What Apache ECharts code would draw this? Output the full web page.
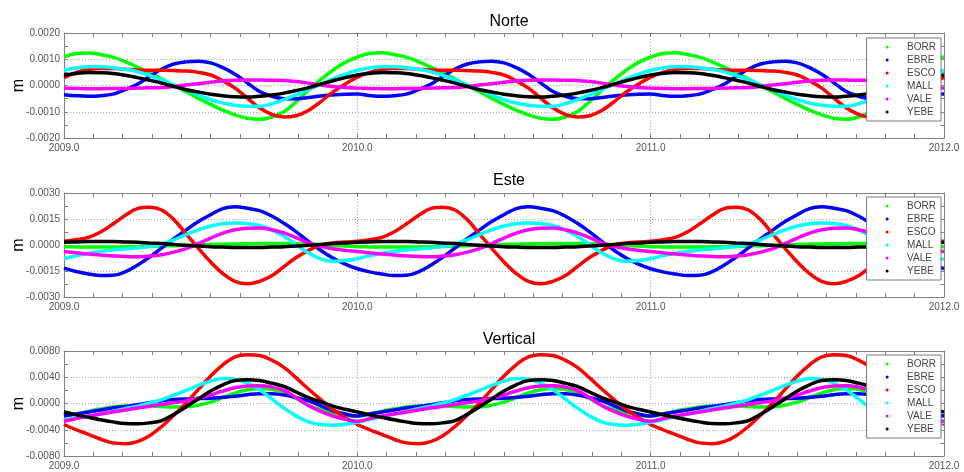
<!DOCTYPE html>
<html>
<head>
<meta charset="utf-8">
<title>Norte / Este / Vertical</title>
<script src="https://cdn.jsdelivr.net/npm/echarts@6/dist/echarts.min.js"></script>
<style>
  html, body { margin: 0; padding: 0; background: #fff; }
  #chart { width: 964px; height: 472px; }
</style>
</head>
<body>
<div id="chart"></div>
<script>
// Sampling epochs: two values per month, 2009.0 to 2012.0
const epochs = Array.from({ length: 73 }, (_, k) => 2009 + k / 24);

const stations = ['BORR', 'EBRE', 'ESCO', 'MALL', 'VALE', 'YEBE'];
const stationColors = ['#00ff00', '#0000ff', '#ff0000', '#00ffff', '#ff00ff', '#000000'];

const panelTitles = ['Norte', 'Este', 'Vertical'];
const xTickLabels = ['2009.0', '2010.0', '2011.0', '2012.0'];
const yTickLabelsNorte = ['-0.0020', '-0.0010', '0.0000', '0.0010', '0.0020'];
const yTickLabelsEste = ['-0.0030', '-0.0015', '0.0000', '0.0015', '0.0030'];
const yTickLabelsVertical = ['-0.0080', '-0.0040', '0.0000', '0.0040', '0.0080'];

// North component (m), one row per year
const norteBORR = [
  0.00109, 0.00122, 0.00124, 0.00118, 0.00108, 0.00091, 0.00070, 0.00048, 0.00025, 0.00000, -0.00024, -0.00049, -0.00072, -0.00094, -0.00112, -0.00125, -0.00129, -0.00120, -0.00100, -0.00062, -0.00018, 0.00022, 0.00058, 0.00088,
  0.00108, 0.00122, 0.00125, 0.00118, 0.00108, 0.00091, 0.00070, 0.00048, 0.00025, 0.00000, -0.00024, -0.00049, -0.00072, -0.00094, -0.00112, -0.00125, -0.00129, -0.00120, -0.00100, -0.00062, -0.00018, 0.00022, 0.00058, 0.00088,
  0.00108, 0.00122, 0.00125, 0.00118, 0.00108, 0.00091, 0.00070, 0.00048, 0.00025, 0.00000, -0.00024, -0.00049, -0.00072, -0.00094, -0.00112, -0.00125, -0.00129, -0.00120, -0.00100, -0.00062, -0.00018, 0.00022, 0.00058, 0.00088,
  0.00110];
const norteEBRE = [
  -0.00035, -0.00039, -0.00041, -0.00039, -0.00033, -0.00016, 0.00005, 0.00034, 0.00063, 0.00082, 0.00090, 0.00092, 0.00086, 0.00068, 0.00043, 0.00010, -0.00023, -0.00041, -0.00050, -0.00050, -0.00046, -0.00040, -0.00036, -0.00033,
  -0.00032, -0.00038, -0.00041, -0.00039, -0.00033, -0.00016, 0.00005, 0.00034, 0.00063, 0.00082, 0.00090, 0.00092, 0.00086, 0.00068, 0.00043, 0.00010, -0.00023, -0.00041, -0.00050, -0.00050, -0.00046, -0.00040, -0.00036, -0.00033,
  -0.00032, -0.00038, -0.00041, -0.00039, -0.00033, -0.00016, 0.00005, 0.00034, 0.00063, 0.00082, 0.00090, 0.00092, 0.00086, 0.00068, 0.00043, 0.00010, -0.00023, -0.00041, -0.00050, -0.00050, -0.00046, -0.00040, -0.00036, -0.00033,
  -0.00032];
const norteESCO = [
  0.00030, 0.00050, 0.00061, 0.00065, 0.00065, 0.00062, 0.00059, 0.00058, 0.00058, 0.00057, 0.00055, 0.00050, 0.00040, 0.00018, -0.00010, -0.00048, -0.00085, -0.00110, -0.00120, -0.00115, -0.00095, -0.00062, -0.00025, 0.00005,
  0.00032, 0.00050, 0.00061, 0.00065, 0.00065, 0.00062, 0.00059, 0.00058, 0.00058, 0.00057, 0.00055, 0.00050, 0.00040, 0.00018, -0.00010, -0.00048, -0.00085, -0.00110, -0.00120, -0.00115, -0.00095, -0.00062, -0.00025, 0.00005,
  0.00032, 0.00050, 0.00061, 0.00065, 0.00065, 0.00062, 0.00059, 0.00058, 0.00058, 0.00057, 0.00055, 0.00050, 0.00040, 0.00018, -0.00010, -0.00048, -0.00085, -0.00110, -0.00120, -0.00115, -0.00095, -0.00062, -0.00025, 0.00005,
  0.00032];
const norteMALL = [
  0.00059, 0.00067, 0.00071, 0.00071, 0.00068, 0.00062, 0.00053, 0.00038, 0.00021, 0.00002, -0.00016, -0.00036, -0.00054, -0.00067, -0.00075, -0.00079, -0.00079, -0.00070, -0.00054, -0.00036, -0.00016, 0.00005, 0.00025, 0.00043,
  0.00058, 0.00067, 0.00071, 0.00071, 0.00068, 0.00062, 0.00053, 0.00038, 0.00021, 0.00002, -0.00016, -0.00036, -0.00054, -0.00067, -0.00075, -0.00079, -0.00079, -0.00070, -0.00054, -0.00036, -0.00016, 0.00005, 0.00025, 0.00043,
  0.00058, 0.00067, 0.00071, 0.00071, 0.00068, 0.00062, 0.00053, 0.00038, 0.00021, 0.00002, -0.00016, -0.00036, -0.00054, -0.00067, -0.00075, -0.00079, -0.00079, -0.00070, -0.00054, -0.00036, -0.00016, 0.00005, 0.00025, 0.00043,
  0.00058];
const norteVALE = [
  -0.00010, -0.00011, -0.00012, -0.00012, -0.00011, -0.00011, -0.00010, -0.00009, -0.00008, -0.00004, 0.00002, 0.00007, 0.00012, 0.00017, 0.00020, 0.00021, 0.00021, 0.00020, 0.00019, 0.00015, 0.00009, 0.00002, -0.00004, -0.00008,
  -0.00010, -0.00011, -0.00012, -0.00012, -0.00011, -0.00011, -0.00010, -0.00009, -0.00008, -0.00004, 0.00002, 0.00007, 0.00012, 0.00017, 0.00020, 0.00021, 0.00021, 0.00020, 0.00019, 0.00015, 0.00009, 0.00002, -0.00004, -0.00008,
  -0.00010, -0.00011, -0.00012, -0.00012, -0.00011, -0.00011, -0.00010, -0.00009, -0.00008, -0.00004, 0.00002, 0.00007, 0.00012, 0.00017, 0.00020, 0.00021, 0.00021, 0.00020, 0.00019, 0.00015, 0.00009, 0.00002, -0.00004, -0.00008,
  -0.00010];
const norteYEBE = [
  0.00040, 0.00046, 0.00050, 0.00049, 0.00046, 0.00039, 0.00030, 0.00020, 0.00009, -0.00004, -0.00016, -0.00025, -0.00033, -0.00039, -0.00043, -0.00044, -0.00041, -0.00036, -0.00029, -0.00019, -0.00008, 0.00005, 0.00018, 0.00030,
  0.00040, 0.00046, 0.00050, 0.00049, 0.00046, 0.00039, 0.00030, 0.00020, 0.00009, -0.00004, -0.00016, -0.00025, -0.00033, -0.00039, -0.00043, -0.00044, -0.00041, -0.00036, -0.00029, -0.00019, -0.00008, 0.00005, 0.00018, 0.00030,
  0.00040, 0.00046, 0.00050, 0.00049, 0.00046, 0.00039, 0.00030, 0.00020, 0.00009, -0.00004, -0.00016, -0.00025, -0.00033, -0.00039, -0.00043, -0.00044, -0.00041, -0.00036, -0.00029, -0.00019, -0.00008, 0.00005, 0.00018, 0.00030,
  0.00040];

// East component (m), one row per year
const esteBORR = [
  -0.00010, -0.00011, -0.00012, -0.00012, -0.00012, -0.00011, -0.00010, -0.00008, -0.00006, -0.00004, -0.00002, 0.00000, 0.00003, 0.00005, 0.00006, 0.00007, 0.00008, 0.00008, 0.00008, 0.00007, 0.00005, 0.00002, -0.00002, -0.00006,
  -0.00010, -0.00011, -0.00012, -0.00012, -0.00012, -0.00011, -0.00010, -0.00008, -0.00006, -0.00004, -0.00002, 0.00000, 0.00003, 0.00005, 0.00006, 0.00007, 0.00008, 0.00008, 0.00008, 0.00007, 0.00005, 0.00002, -0.00002, -0.00006,
  -0.00010, -0.00011, -0.00012, -0.00012, -0.00012, -0.00011, -0.00010, -0.00008, -0.00006, -0.00004, -0.00002, 0.00000, 0.00003, 0.00005, 0.00006, 0.00007, 0.00008, 0.00008, 0.00008, 0.00007, 0.00005, 0.00002, -0.00002, -0.00006,
  -0.00010];
const esteEBRE = [
  -0.00133, -0.00153, -0.00167, -0.00176, -0.00175, -0.00155, -0.00117, -0.00070, -0.00017, 0.00036, 0.00087, 0.00135, 0.00175, 0.00210, 0.00220, 0.00212, 0.00198, 0.00167, 0.00125, 0.00076, 0.00021, -0.00030, -0.00075, -0.00110,
  -0.00137, -0.00155, -0.00167, -0.00176, -0.00175, -0.00155, -0.00117, -0.00070, -0.00017, 0.00036, 0.00087, 0.00135, 0.00175, 0.00210, 0.00220, 0.00212, 0.00198, 0.00167, 0.00125, 0.00076, 0.00021, -0.00030, -0.00075, -0.00110,
  -0.00137, -0.00155, -0.00167, -0.00176, -0.00175, -0.00155, -0.00117, -0.00070, -0.00017, 0.00036, 0.00087, 0.00135, 0.00175, 0.00210, 0.00220, 0.00212, 0.00198, 0.00167, 0.00125, 0.00076, 0.00021, -0.00030, -0.00075, -0.00110,
  -0.00137];
const esteESCO = [
  0.00021, 0.00030, 0.00044, 0.00075, 0.00121, 0.00170, 0.00210, 0.00218, 0.00202, 0.00145, 0.00063, -0.00020, -0.00098, -0.00165, -0.00210, -0.00224, -0.00210, -0.00178, -0.00125, -0.00072, -0.00032, 0.00000, 0.00012, 0.00017,
  0.00021, 0.00030, 0.00044, 0.00075, 0.00121, 0.00170, 0.00210, 0.00218, 0.00202, 0.00145, 0.00063, -0.00020, -0.00098, -0.00165, -0.00210, -0.00224, -0.00210, -0.00178, -0.00125, -0.00072, -0.00032, 0.00000, 0.00012, 0.00017,
  0.00021, 0.00030, 0.00044, 0.00075, 0.00121, 0.00170, 0.00210, 0.00218, 0.00202, 0.00145, 0.00063, -0.00020, -0.00098, -0.00165, -0.00210, -0.00224, -0.00210, -0.00178, -0.00125, -0.00072, -0.00032, 0.00000, 0.00012, 0.00017,
  0.00021];
const esteMALL = [
  -0.00079, -0.00062, -0.00048, -0.00037, -0.00029, -0.00023, -0.00017, -0.00008, 0.00006, 0.00030, 0.00060, 0.00087, 0.00110, 0.00123, 0.00127, 0.00124, 0.00113, 0.00087, 0.00050, 0.00002, -0.00046, -0.00080, -0.00094, -0.00090,
  -0.00079, -0.00062, -0.00048, -0.00037, -0.00029, -0.00023, -0.00017, -0.00008, 0.00006, 0.00030, 0.00060, 0.00087, 0.00110, 0.00123, 0.00127, 0.00124, 0.00113, 0.00087, 0.00050, 0.00002, -0.00046, -0.00080, -0.00094, -0.00090,
  -0.00079, -0.00062, -0.00048, -0.00037, -0.00029, -0.00023, -0.00017, -0.00008, 0.00006, 0.00030, 0.00060, 0.00087, 0.00110, 0.00123, 0.00127, 0.00124, 0.00113, 0.00087, 0.00050, 0.00002, -0.00046, -0.00080, -0.00094, -0.00090,
  -0.00079];
const esteVALE = [
  -0.00037, -0.00045, -0.00052, -0.00058, -0.00063, -0.00067, -0.00068, -0.00064, -0.00056, -0.00041, -0.00021, 0.00008, 0.00040, 0.00068, 0.00088, 0.00097, 0.00098, 0.00088, 0.00070, 0.00042, 0.00012, -0.00008, -0.00022, -0.00031,
  -0.00037, -0.00045, -0.00052, -0.00058, -0.00063, -0.00067, -0.00068, -0.00064, -0.00056, -0.00041, -0.00021, 0.00008, 0.00040, 0.00068, 0.00088, 0.00097, 0.00098, 0.00088, 0.00070, 0.00042, 0.00012, -0.00008, -0.00022, -0.00031,
  -0.00037, -0.00045, -0.00052, -0.00058, -0.00063, -0.00067, -0.00068, -0.00064, -0.00056, -0.00041, -0.00021, 0.00008, 0.00040, 0.00068, 0.00088, 0.00097, 0.00098, 0.00088, 0.00070, 0.00042, 0.00012, -0.00008, -0.00022, -0.00031,
  -0.00037];
const esteYEBE = [
  0.00016, 0.00018, 0.00020, 0.00020, 0.00020, 0.00018, 0.00016, 0.00012, 0.00008, 0.00003, -0.00002, -0.00006, -0.00010, -0.00012, -0.00014, -0.00014, -0.00014, -0.00012, -0.00010, -0.00006, -0.00002, 0.00003, 0.00008, 0.00012,
  0.00016, 0.00018, 0.00020, 0.00020, 0.00020, 0.00018, 0.00016, 0.00012, 0.00008, 0.00003, -0.00002, -0.00006, -0.00010, -0.00012, -0.00014, -0.00014, -0.00014, -0.00012, -0.00010, -0.00006, -0.00002, 0.00003, 0.00008, 0.00012,
  0.00016, 0.00018, 0.00020, 0.00020, 0.00020, 0.00018, 0.00016, 0.00012, 0.00008, 0.00003, -0.00002, -0.00006, -0.00010, -0.00012, -0.00014, -0.00014, -0.00014, -0.00012, -0.00010, -0.00006, -0.00002, 0.00003, 0.00008, 0.00012,
  0.00016];

// Vertical component (m), one row per year
const verticalBORR = [
  -0.00190, -0.00160, -0.00120, -0.00085, -0.00055, -0.00038, -0.00030, -0.00035, -0.00045, -0.00052, -0.00050, -0.00025, 0.00020, 0.00090, 0.00160, 0.00210, 0.00230, 0.00215, 0.00170, 0.00075, -0.00030, -0.00095, -0.00140, -0.00175,
  -0.00195, -0.00160, -0.00120, -0.00085, -0.00055, -0.00038, -0.00030, -0.00035, -0.00045, -0.00052, -0.00050, -0.00025, 0.00020, 0.00090, 0.00160, 0.00210, 0.00230, 0.00215, 0.00170, 0.00075, -0.00030, -0.00095, -0.00140, -0.00175,
  -0.00195, -0.00160, -0.00120, -0.00085, -0.00055, -0.00038, -0.00030, -0.00035, -0.00045, -0.00052, -0.00050, -0.00025, 0.00020, 0.00090, 0.00160, 0.00210, 0.00230, 0.00215, 0.00170, 0.00075, -0.00030, -0.00095, -0.00140, -0.00175,
  -0.00195];
const verticalEBRE = [
  -0.00190, -0.00160, -0.00130, -0.00100, -0.00070, -0.00045, -0.00020, 0.00010, 0.00040, 0.00060, 0.00070, 0.00075, 0.00080, 0.00095, 0.00110, 0.00135, 0.00150, 0.00148, 0.00130, 0.00090, 0.00040, -0.00035, -0.00110, -0.00160,
  -0.00190, -0.00160, -0.00130, -0.00100, -0.00070, -0.00045, -0.00020, 0.00010, 0.00040, 0.00060, 0.00070, 0.00075, 0.00080, 0.00095, 0.00110, 0.00135, 0.00150, 0.00148, 0.00130, 0.00090, 0.00040, -0.00035, -0.00110, -0.00160,
  -0.00190, -0.00160, -0.00130, -0.00100, -0.00070, -0.00045, -0.00020, 0.00010, 0.00040, 0.00060, 0.00070, 0.00075, 0.00080, 0.00095, 0.00110, 0.00135, 0.00150, 0.00148, 0.00130, 0.00090, 0.00040, -0.00035, -0.00110, -0.00160,
  -0.00190];
const verticalESCO = [
  -0.00320, -0.00400, -0.00470, -0.00545, -0.00600, -0.00612, -0.00580, -0.00490, -0.00350, -0.00175, 0.00010, 0.00215, 0.00420, 0.00590, 0.00710, 0.00742, 0.00730, 0.00660, 0.00550, 0.00390, 0.00220, 0.00060, -0.00090, -0.00215,
  -0.00320, -0.00400, -0.00470, -0.00545, -0.00600, -0.00612, -0.00580, -0.00490, -0.00350, -0.00175, 0.00010, 0.00215, 0.00420, 0.00590, 0.00710, 0.00742, 0.00730, 0.00660, 0.00550, 0.00390, 0.00220, 0.00060, -0.00090, -0.00215,
  -0.00320, -0.00400, -0.00470, -0.00545, -0.00600, -0.00612, -0.00580, -0.00490, -0.00350, -0.00175, 0.00010, 0.00215, 0.00420, 0.00590, 0.00710, 0.00742, 0.00730, 0.00660, 0.00550, 0.00390, 0.00220, 0.00060, -0.00090, -0.00215,
  -0.00320];
const verticalMALL = [
  -0.00250, -0.00222, -0.00195, -0.00160, -0.00120, -0.00080, -0.00040, 0.00008, 0.00060, 0.00128, 0.00200, 0.00275, 0.00340, 0.00380, 0.00370, 0.00310, 0.00210, 0.00070, -0.00070, -0.00190, -0.00280, -0.00320, -0.00330, -0.00315,
  -0.00285, -0.00245, -0.00200, -0.00160, -0.00120, -0.00080, -0.00040, 0.00008, 0.00060, 0.00128, 0.00200, 0.00275, 0.00340, 0.00380, 0.00370, 0.00310, 0.00210, 0.00070, -0.00070, -0.00190, -0.00280, -0.00320, -0.00330, -0.00315,
  -0.00285, -0.00245, -0.00200, -0.00160, -0.00120, -0.00080, -0.00040, 0.00008, 0.00060, 0.00128, 0.00200, 0.00275, 0.00340, 0.00380, 0.00370, 0.00310, 0.00210, 0.00070, -0.00070, -0.00190, -0.00280, -0.00320, -0.00330, -0.00315,
  -0.00285];
const verticalVALE = [
  -0.00270, -0.00230, -0.00190, -0.00160, -0.00130, -0.00100, -0.00070, -0.00042, -0.00015, 0.00012, 0.00040, 0.00082, 0.00130, 0.00190, 0.00240, 0.00268, 0.00270, 0.00250, 0.00200, 0.00090, -0.00030, -0.00120, -0.00190, -0.00240,
  -0.00270, -0.00230, -0.00190, -0.00160, -0.00130, -0.00100, -0.00070, -0.00042, -0.00015, 0.00012, 0.00040, 0.00082, 0.00130, 0.00190, 0.00240, 0.00268, 0.00270, 0.00250, 0.00200, 0.00090, -0.00030, -0.00120, -0.00190, -0.00240,
  -0.00270, -0.00230, -0.00190, -0.00160, -0.00130, -0.00100, -0.00070, -0.00042, -0.00015, 0.00012, 0.00040, 0.00082, 0.00130, 0.00190, 0.00240, 0.00268, 0.00270, 0.00250, 0.00200, 0.00090, -0.00030, -0.00120, -0.00190, -0.00240,
  -0.00270];
const verticalYEBE = [
  -0.00130, -0.00172, -0.00210, -0.00248, -0.00280, -0.00305, -0.00310, -0.00295, -0.00260, -0.00165, -0.00050, 0.00070, 0.00190, 0.00285, 0.00350, 0.00362, 0.00350, 0.00310, 0.00260, 0.00175, 0.00090, 0.00025, -0.00040, -0.00088,
  -0.00130, -0.00172, -0.00210, -0.00248, -0.00280, -0.00305, -0.00310, -0.00295, -0.00260, -0.00165, -0.00050, 0.00070, 0.00190, 0.00285, 0.00350, 0.00362, 0.00350, 0.00310, 0.00260, 0.00175, 0.00090, 0.00025, -0.00040, -0.00088,
  -0.00130, -0.00172, -0.00210, -0.00248, -0.00280, -0.00305, -0.00310, -0.00295, -0.00260, -0.00165, -0.00050, 0.00070, 0.00190, 0.00285, 0.00350, 0.00362, 0.00350, 0.00310, 0.00260, 0.00175, 0.00090, 0.00025, -0.00040, -0.00088,
  -0.00130];

const panelSeries = [
  [norteBORR, norteEBRE, norteESCO, norteMALL, norteVALE, norteYEBE],
  [esteBORR, esteEBRE, esteESCO, esteMALL, esteVALE, esteYEBE],
  [verticalBORR, verticalEBRE, verticalESCO, verticalMALL, verticalVALE, verticalYEBE]
];
const panelYLabels = [yTickLabelsNorte, yTickLabelsEste, yTickLabelsVertical];

const FONT = 'Liberation Sans, Arial, Helvetica, sans-serif';
const FRAME = '#808080';
const LABEL = '#555555';

// Layout of the three stacked panels
const panelTop = [33, 193, 351];
const panelHeight = [105, 104, 105];
const titleTop = [9, 168, 327];
const legendTop = [38, 197, 355];

const grids = [], xAxes = [], yAxes = [], titles = [], legends = [], series = [];

panelTitles.forEach((name, p) => {
  const ticks = panelYLabels[p].map(Number);
  const yMin = ticks[0], yMax = ticks[ticks.length - 1], yStep = ticks[1] - ticks[0];

  grids.push({
    left: 64, width: 880, top: panelTop[p], height: panelHeight[p],
    containLabel: false, outerBoundsMode: 'none'
  });

  titles.push({
    text: name, left: 504, top: titleTop[p], textAlign: 'center',
    textStyle: { fontFamily: FONT, fontSize: 16, fontWeight: 'normal', color: '#000' }
  });

  const xBase = {
    type: 'value', gridIndex: p,
    min: Number(xTickLabels[0]), max: Number(xTickLabels[xTickLabels.length - 1]), interval: 1,
    axisLine: { show: true, onZero: false, lineStyle: { color: FRAME, width: 1 } },
    axisTick: { show: true, inside: true, length: 4, lineStyle: { color: FRAME } },
    minorTick: { show: true, splitNumber: 10, length: 4, lineStyle: { color: FRAME } },
    splitLine: { show: false }
  };
  xAxes.push(Object.assign({}, xBase, {
    position: 'bottom',
    splitLine: { show: true, lineStyle: { color: '#a8a8a8', type: [1, 2], width: 1 } },
    axisLabel: {
      show: true, margin: 5, fontFamily: FONT, fontSize: 10, color: LABEL,
      formatter: v => xTickLabels.find(s => Number(s) === v) || ''
    }
  }));
  xAxes.push(Object.assign({}, xBase, { position: 'top', axisLabel: { show: false } }));

  const yBase = {
    type: 'value', gridIndex: p, min: yMin, max: yMax, interval: yStep,
    axisLine: { show: true, onZero: false, lineStyle: { color: FRAME, width: 1 } },
    axisTick: { show: true, inside: true, length: 4, lineStyle: { color: FRAME } },
    minorTick: { show: true, splitNumber: 2, length: 4, lineStyle: { color: FRAME } },
    splitLine: { show: false }
  };
  yAxes.push(Object.assign({}, yBase, {
    position: 'left',
    name: 'm', nameLocation: 'middle', nameRotate: 90, nameGap: 37, nameMoveOverlap: false,
    nameTextStyle: { fontFamily: FONT, fontSize: 16, color: '#000' },
    splitLine: { show: true, lineStyle: { color: '#a8a8a8', type: [1, 2], width: 1 } },
    axisLabel: {
      show: true, margin: 4, fontFamily: FONT, fontSize: 10, color: LABEL,
      formatter: v => {
        const hit = panelYLabels[p].find(s => Math.abs(Number(s) - v) < 1e-9);
        return hit || '';
      }
    }
  }));
  yAxes.push(Object.assign({}, yBase, { position: 'right', axisLabel: { show: false } }));

  legends.push({
    data: stations.map(s => ({ name: s, icon: 'circle' })),
    orient: 'vertical', right: 23, top: legendTop[p], z: 20,
    backgroundColor: '#ffffff', borderColor: '#7a7a7a', borderWidth: 1, borderRadius: 0,
    padding: [3, 5, 3, 19], itemGap: 1, itemWidth: 30, itemHeight: 3,
    selectedMode: false,
    textStyle: { fontFamily: FONT, fontSize: 10, color: '#444', lineHeight: 12 }
  });

  panelSeries[p].forEach((values, i) => {
    series.push({
      name: stations[i], type: 'line',
      xAxisIndex: p * 2, yAxisIndex: p * 2,
      data: epochs.map((t, k) => [t, values[k]]),
      smooth: 0.4, showSymbol: false, symbol: 'circle', symbolSize: 3,
      lineStyle: { color: stationColors[i], width: 3.5 },
      itemStyle: { color: stationColors[i] },
      clip: true, silent: true, animation: false
    });
  });
});

const chart = echarts.init(document.getElementById('chart'), null, { renderer: 'canvas' });
chart.setOption({
  backgroundColor: '#ffffff',
  animation: false,
  title: titles,
  legend: legends,
  grid: grids,
  xAxis: xAxes,
  yAxis: yAxes,
  series: series
});
</script>
</body>
</html>
